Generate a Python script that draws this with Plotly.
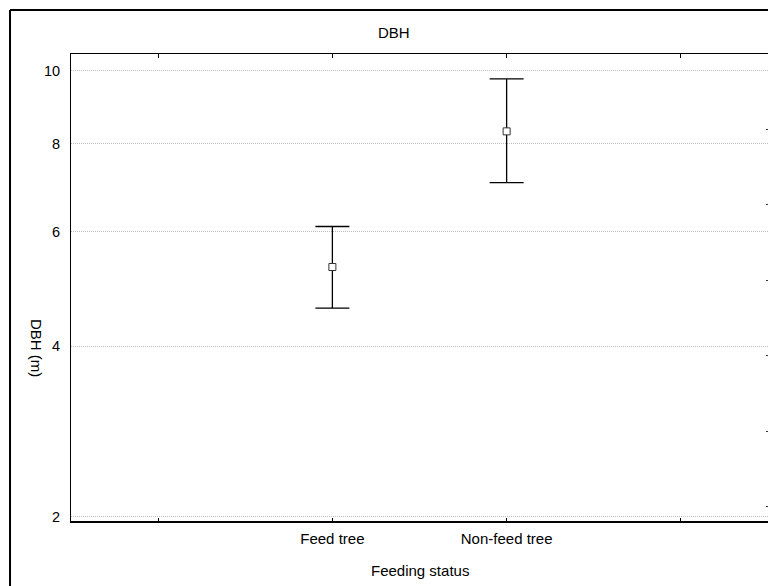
import plotly.graph_objects as go

# ---- data (original units, m) ----
categories = ["Feed tree", "Non-feed tree"]
cat_pos = [1, 2]
means = [5.32, 8.31]
upper = [6.11, 9.75]
lower = [4.60, 7.06]

y_ticks = [2, 4, 6, 8, 10]
x_tickvals = [0, 1, 2, 3]
x_ticktext = ["", "Feed tree", "Non-feed tree", ""]

# axis uses a fourth-root (power 0.25) scale
P = 0.25
def tf(v):
    return v ** P

ty = [tf(m) for m in means]
err_plus = [tf(u) - tf(m) for u, m in zip(upper, means)]
err_minus = [tf(m) - tf(l) for l, m in zip(lower, means)]

FONT = "Liberation Sans, Arial, sans-serif"

fig = go.Figure()
fig.add_trace(go.Scatter(
    x=cat_pos, y=ty, mode="markers",
    marker=dict(symbol="square", size=7, color="white",
                line=dict(color="#333333", width=1)),
    error_y=dict(type="data", symmetric=False, array=err_plus,
                 arrayminus=err_minus, color="black", thickness=1.3, width=17),
    showlegend=False, hoverinfo="skip",
))
# helper trace so the right-hand tick axis is drawn
fig.add_trace(go.Scatter(x=[None], y=[None], yaxis="y2", showlegend=False,
                         hoverinfo="skip"))

fig.update_layout(
    width=768, height=586,
    margin=dict(l=71, r=0, t=54, b=64),
    paper_bgcolor="white", plot_bgcolor="white",
    font=dict(family=FONT, size=15, color="black"),
    xaxis=dict(
        range=[-0.5, 3.5], tickvals=x_tickvals, ticktext=x_ticktext,
        ticks="inside", ticklen=4, tickcolor="black", tickwidth=1,
        showgrid=False, zeroline=False,
        showline=True, linecolor="black", linewidth=1, mirror="ticks",
        tickfont=dict(size=15), ticklabelstandoff=3,
    ),
    yaxis=dict(
        range=[tf(1.9516), tf(10.498)],
        tickvals=[tf(v) for v in y_ticks], ticktext=[str(v) for v in y_ticks],
        ticks="", showgrid=True, gridcolor="#bdbdbd", griddash="1px,1px", gridwidth=1,
        zeroline=False, showline=True, linecolor="black", linewidth=1, mirror=False,
        tickfont=dict(size=14.5), ticklabelstandoff=7,
    ),
    yaxis2=dict(
        overlaying="y", side="right", range=[0, 6.2],
        tickmode="linear", tick0=0.2, dtick=1,
        ticks="inside", ticklen=2, tickcolor="#333333",
        showticklabels=False, showgrid=False, zeroline=False, showline=False,
    ),
    shapes=[
        # outer frame: top and left edges (the rest lies outside the picture)
        dict(type="line", xref="paper", yref="paper",
             x0=-0.0875, x1=1.0, y0=1.094, y1=1.094,
             line=dict(color="black", width=2), layer="above"),
        dict(type="line", xref="paper", yref="paper",
             x0=-0.0875, x1=-0.0875, y0=-0.2, y1=1.094,
             line=dict(color="black", width=2), layer="above"),
        dict(type="line", xref="paper", yref="paper", x0=0, x1=1, y0=0, y1=0,
             line=dict(color="black", width=2), layer="above"),
    ],
    annotations=[
        dict(text="DBH", xref="paper", yref="paper", x=0.4634, y=1.047,
             showarrow=False, xanchor="center", yanchor="middle",
             font=dict(size=15)),
        dict(text="Feeding status", xref="paper", yref="paper", x=0.5, y=-0.1026,
             showarrow=False, xanchor="center", yanchor="middle",
             font=dict(size=15)),
        dict(text="DBH (m)", xref="paper", yref="paper", x=-0.0502, y=0.3718,
             showarrow=False, xanchor="center", yanchor="middle", textangle=90,
             font=dict(size=15)),
    ],
)

fig.write_html("out.html", config={"displayModeBar": False}, post_script=(
    "document.body.style.margin='0';"
    "document.documentElement.style.overflow='hidden';"
    "document.body.style.overflow='hidden';"
))
